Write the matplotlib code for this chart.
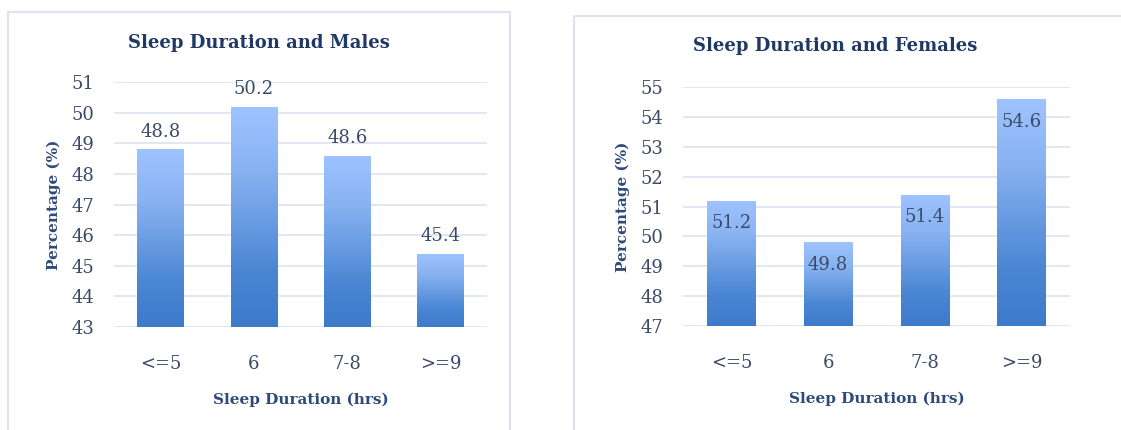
import numpy as np
import matplotlib
matplotlib.use("Agg")
import matplotlib.pyplot as plt
from matplotlib.colors import LinearSegmentedColormap
from matplotlib.patches import Rectangle

categories = ["<=5", "6", "7-8", ">=9"]
males = [48.8, 50.2, 48.6, 45.4]
females = [51.2, 49.8, 51.4, 54.6]

W, H = 1121, 430
plt.rcParams["font.family"] = ["DejaVu Serif"]

title_color = "#1F3864"
text_color = "#3B4A68"
grid_color = "#DCE4F2"
frame_color = "#DCE4F2"

bar_cmap = LinearSegmentedColormap.from_list(
    "barfill", [(0, "#3D7ACA"), (0.25, "#4A86D3"), (0.7, "#87B1F0"), (1, "#9EC4FF")])


def px(x0, y0, x1, y1):
    # pixel box (top-left origin) -> figure fraction rect
    return [x0 / W, 1 - y1 / H, (x1 - x0) / W, (y1 - y0) / H]


def draw_panel(fig, rect, vals, ylim, title, title_xy, label_inside, frame):
    fig.add_artist(Rectangle((frame[0] / W, 1 - frame[3] / H),
                             (frame[2] - frame[0]) / W, (frame[3] - frame[1]) / H,
                             transform=fig.transFigure, fill=False,
                             edgecolor=frame_color, lw=1.5))
    ax = fig.add_axes(rect)
    x = np.arange(len(categories))
    bars = ax.bar(x, vals, width=0.5, bottom=0, color="none", zorder=3)
    grad = np.linspace(0, 1, 256).reshape(-1, 1)
    for b in bars:
        x0, w = b.get_x(), b.get_width()
        top = b.get_height()
        im = ax.imshow(grad, cmap=bar_cmap, origin="lower", aspect="auto",
                       extent=[x0, x0 + w, ylim[0], top], zorder=3)
        im.set_clip_path(b)
    ax.set_xlim(-0.5, len(categories) - 0.5)
    ax.set_ylim(*ylim)
    ax.set_yticks(range(ylim[0], ylim[1] + 1))
    ax.set_xticks(x)
    ax.set_xticklabels(categories)
    ax.grid(axis="y", color=grid_color, lw=1.2, zorder=0)
    ax.set_axisbelow(True)
    for s in ax.spines.values():
        s.set_visible(False)
    ax.tick_params(length=0, labelsize=13, colors=text_color)
    ax.tick_params(axis="x", pad=20)
    ax.tick_params(axis="y", pad=14)
    ax.set_ylabel("Percentage (%)", fontsize=11, fontweight="bold", color="#2E4A7A", labelpad=8)
    ax.set_xlabel("Sleep Duration (hrs)", fontsize=11, fontweight="bold", color="#2E4A7A", labelpad=14)
    for xi, v in zip(x, vals):
        if label_inside:
            ax.annotate(f"{v}", (xi, v), xytext=(0, -10), textcoords="offset points",
                        ha="center", va="top", fontsize=13, color=text_color, zorder=5)
        else:
            ax.annotate(f"{v}", (xi, v), xytext=(0, 6), textcoords="offset points",
                        ha="center", va="bottom", fontsize=13, color=text_color, zorder=5)
    fig.text(title_xy[0] / W, 1 - title_xy[1] / H, title, ha="center", va="center",
             fontsize=13, fontweight="bold", color=title_color)
    return ax


fig = plt.figure(figsize=(W / 100, H / 100), dpi=100)
fig.patch.set_facecolor("white")

draw_panel(fig, px(114, 82, 487, 327), males, (43, 51), "Sleep Duration and Males", (259, 43),
           False, (8, 12, 510, 440))
draw_panel(fig, px(683, 87, 1070, 326), females, (47, 55), "Sleep Duration and Females", (835, 46),
           True, (574, 16, 1130, 440))

fig.savefig("out.png", dpi=100, facecolor="white")
